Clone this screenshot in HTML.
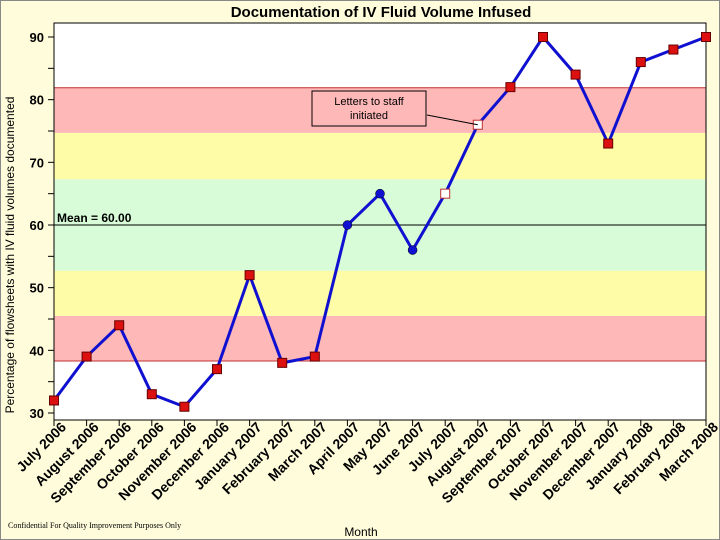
<!DOCTYPE html>
<html><head><meta charset="utf-8"><style>
body{margin:0;background:#fffcdc;}
svg{display:block;font-family:"Liberation Sans",sans-serif;}
</style></head><body>
<svg width="720" height="540">
<rect x="0.5" y="0.5" width="719" height="539" fill="#fffcdc" stroke="#888"/>
<text x="381" y="17" font-size="15" font-weight="bold" text-anchor="middle">Documentation of IV Fluid Volume Infused</text>
<g id="plot"></g>
<text x="361" y="536" font-size="12" text-anchor="middle">Month</text>
<text transform="translate(14,255) rotate(-90)" font-size="12" text-anchor="middle">Percentage of flowsheets with IV fluid volumes documented</text>
<text x="8" y="528" font-size="8" font-family="Liberation Serif,serif">Confidential For Quality Improvement Purposes Only</text>
</svg>
<script>
const categories=["July 2006","August 2006","September 2006","October 2006","November 2006","December 2006","January 2007","February 2007","March 2007","April 2007","May 2007","June 2007","July 2007","August 2007","September 2007","October 2007","November 2007","December 2007","January 2008","February 2008","March 2008"];
const values=[32,39,44,33,31,37,52,38,39,60,65,56,65,76,82,90,84,73,86,88,90];
const markerTypes=["s","s","s","s","s","s","s","s","s","c","c","c","w","w","s","s","s","s","s","s","s"];
const yTicks=[30,40,50,60,70,80,90];
const bandEdges=[38.3,45.5,52.7,67.3,74.7,81.9];
const bandColors=["#ffb8b8","#fffca8","#d8fcd8","#fffca8","#ffb8b8"];
const meanValue=60;
const NS="http://www.w3.org/2000/svg";
const L=54,R=706,T=23,B=420;
const y=v=>37+(90-v)*(413-37)/60;
const x=i=>L+i*(R-L)/(categories.length-1);
const g=document.getElementById('plot');
function mk(t,a){const e=document.createElementNS(NS,t);for(const k in a)e.setAttribute(k,a[k]);g.appendChild(e);return e;}
let e=mk('rect',{x:L,y:T,width:R-L,height:B-T,fill:'#fff'});


for(let i=0;i<bandColors.length;i++){
 e=mk('rect',{x:L,y:y(bandEdges[i+1]),width:R-L,height:y(bandEdges[i])-y(bandEdges[i+1]),fill:bandColors[i]});
 
 
}
[bandEdges[0],bandEdges[5]].forEach(v=>{e=mk('line',{x1:L,x2:R,y1:y(v),y2:y(v),stroke:'#c03030','stroke-width':1});
 
 });
e=mk('line',{x1:L,x2:R,y1:y(meanValue),y2:y(meanValue),stroke:'#000','stroke-width':1});


e=mk('text',{x:L+3,y:y(meanValue)-3,'font-size':12,'font-weight':'bold'});e.textContent='Mean = 60.00';


e=mk('rect',{x:L,y:T,width:R-L,height:B-T,fill:'none',stroke:'#000'});


for(let v=30;v<=90;v+=5){e=mk('line',{x1:L-6,x2:L,y1:y(v),y2:y(v),stroke:'#000'});
 
 }
yTicks.forEach(v=>{e=mk('text',{x:L-10,y:y(v)+5,'font-size':13,'font-weight':'bold','text-anchor':'end'});e.textContent=v;
 
 });
categories.forEach((c,i)=>{
 e=mk('line',{x1:x(i),x2:x(i),y1:B,y2:B+6,stroke:'#000'});
 
 
 e=mk('text',{transform:`translate(${x(i)+13},${B+8}) rotate(-45)`,'font-size':14,'font-weight':'bold','text-anchor':'end'});e.textContent=c;
 
 
});
e=mk('polyline',{points:values.map((v,i)=>x(i)+','+y(v)).join(' '),fill:'none',stroke:'#1010d0','stroke-width':3});


values.forEach((v,i)=>{
 const t=markerTypes[i];
 if(t==='c'){e=mk('circle',{cx:x(i),cy:y(v),r:4.5,fill:'#1010d0',stroke:'#000','stroke-width':0.5});}
 else{e=mk('rect',{x:x(i)-4.5,y:y(v)-4.5,width:9,height:9,fill:t==='w'?'#fff':'#dd1010',stroke:t==='w'?'#c03030':'#600','stroke-width':1});}
 
 
});
e=mk('line',{x1:427,y1:115,x2:x(13),y2:y(values[13]),stroke:'#000'});


e=mk('rect',{x:312,y:91,width:114,height:35,fill:'#ffb8b8',stroke:'#000'});


e=mk('text',{x:369,y:105,'font-size':11,'text-anchor':'middle'});e.textContent='Letters to staff';


e=mk('text',{x:369,y:119,'font-size':11,'text-anchor':'middle'});e.textContent='initiated';


</script>
</body></html>
